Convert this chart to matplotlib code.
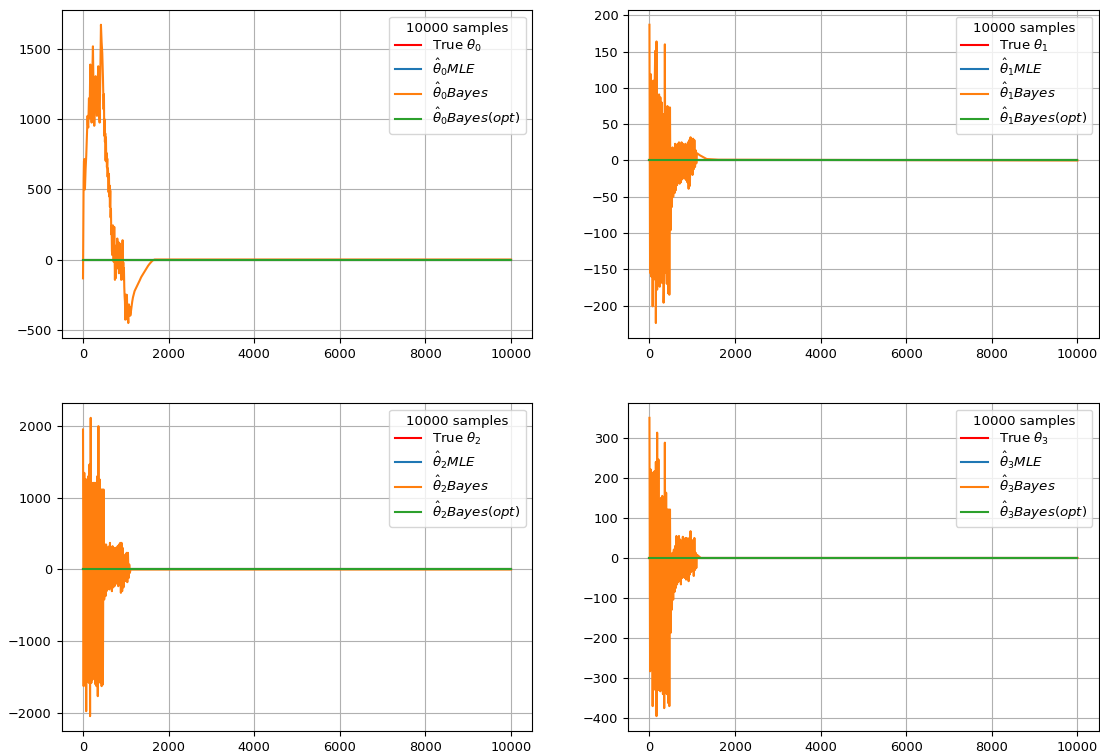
import numpy as np
import matplotlib
matplotlib.use("Agg")
import matplotlib.pyplot as plt
from matplotlib.ticker import MultipleLocator

plt.rcParams['font.size'] = 9.3

n_samples = 10000
true_theta = [0., 0., 0., 0.]
mle_theta = [0., 0., 0., 0.]
bayes_opt_theta = [0., 0., 0., 0.]

# theta_0 bayes estimate (random-walk-ish)
b0_x = [0, 8, 14, 22, 30, 45, 61, 70, 76, 92, 107, 115, 123, 139, 154, 170, 185, 201, 216, 232,
        247, 263, 279, 294, 310, 326, 341, 357, 372, 388, 404, 419, 435, 450, 466,
        481, 489, 497, 505, 512, 520, 528, 536, 543, 551, 559, 567, 575, 582, 590, 598, 606, 614,
        621, 629, 637, 645, 653, 660, 668, 676, 684, 691, 699,
        707, 715, 723, 730, 738, 746, 754, 762, 770, 777, 785, 793, 801, 809, 816, 824, 832, 840,
        848, 855, 863, 870, 878, 886, 894, 902, 910, 917, 925, 933, 941, 949, 956, 964, 972, 980,
        988, 995, 1003, 1011, 1019, 1026, 1034, 1042, 1050, 1058, 1066, 1073, 1081, 1089, 1097,
        1105,
        1120, 1136, 1150, 1167, 1205, 1245, 1285, 1323, 1360, 1401, 1440, 1479, 1520, 1557, 1600,
        1635, 1674, n_samples]
b0_y = [-134, 315, 560, 700, 717, 500, 646, 700, 741, 880, 1025, 960, 942, 1150, 1013, 1391, 1200,
        977, 1300, 1521, 1180, 954, 1100, 1308, 1150, 1025, 1250, 1379, 1100, 977, 1300, 1675,
        1550, 1474, 1300,
        1072, 1180, 883, 1000, 840, 900, 705, 871, 700, 760, 658, 720, 590, 650, 599, 480, 611,
        450, 528, 375, 493, 300, 362, 180, 240, 60, 32, 240, 244,
        120, -15, 60, 233, 20, -145, 60, -134, 90, 20, 103, -40, 150, -63, 90, 126, 10, -98, 40,
        115, -40, -87, 60, 8, -145, 40, -60, -4, 138, -134, -20, -145, -63, -193, -263, -300,
        -429, -350, -250, -418, -300, -252, -380, -430, -406, -453, -360, -320, -400, -335, -347,
        -400,
        -370, -330, -300, -270, -225, -200, -175, -150, -125, -105, -85, -65, -45, -30, -15, -5,
        0, 0]

# theta_1..theta_3 bayes estimates, one value every 15 samples, then the tail
step = 15
b1_noisy = [187, -155, 119, -160, 108, -201, 110, -164, 95, 151, -224, 164, -178, 85, -170, 91,
            -174, 87, -160, 80, -169, 64, -196, -150, 160, -155, 73, -170, 75, -183, 73, -185, 73,
            -96, 5, -64, 18, -50, 15, -45, 23, -41, 20, -34, 23, -30, 25, -32, 22, -30, 25, -26,
            23, -23, 20, -25, 23, -27, 20, -30, 25, -39, 28, -35, 32, -18, 26, -20, 30, -12, 28,
            -9, 14, -4, 10]
b1_tail_x = [1182, 1337, 1610, n_samples]
b1_tail_y = [7, 2, 1, 0]

b2_noisy = [1955, -1629, 1350, -1443, 1257, -1979, 1257, -1443, 1300, -1583, 1466, -2048, 2118,
            -1583, 1210, -1536, 1210, -1490, 1210, -1600, 1210, -1629, 1300, -1769, 2002, -1304,
            1257, -1583, 1117, -1629, 1117, -1606, 1117, -419, 349, -372, 349, -300, 303, -256,
            320, -279, 372, -256, 186, -303, 326, -250, 279, -233, 303, -186, 303, -200, 326,
            -233, 349, -209, 372, -326, 372, -303, 300, -250, 140, -163, 209, -163, 233, -177,
            233, -120, 70, -47, 0]
b2_tail_x = [1150, n_samples]
b2_tail_y = [0, 0]

b3_noisy = [350, -283, 221, -279, 213, -370, 213, -329, 217, -320, 240, -395, 313, -329, 246,
            -330, 146, -333, 150, -329, 155, -340, 113, -375, 288, -329, 163, -340, 121, -362,
            121, -370, 121, -187, 5, -129, 13, -104, 21, -85, 30, -75, 55, -66, 50, -60, 55, -54,
            46, -66, 30, -50, 53, -45, 45, -50, 50, -54, 50, -50, 38, -58, 50, -41, 67, -35, 38,
            -29, 45, -45, 50, -30, 13, -25, 8]
b3_tail_x = [1143, 1200, n_samples]
b3_tail_y = [5, 0, 0]


def noisy_series(values, tail_x, tail_y):
    x = list(np.arange(len(values)) * step) + tail_x
    y = list(values) + tail_y
    return x, y


bayes = [
    (b0_x, b0_y),
    noisy_series(b1_noisy, b1_tail_x, b1_tail_y),
    noisy_series(b2_noisy, b2_tail_x, b2_tail_y),
    noisy_series(b3_noisy, b3_tail_x, b3_tail_y),
]

fig, axes = plt.subplots(2, 2, figsize=(11, 7.56), dpi=100)
fig.subplots_adjust(left=0.056, right=0.999, top=0.987, bottom=0.033, wspace=0.203, hspace=0.198)

ends = [0, n_samples]
for i, ax in enumerate(axes.flat):
    ax.plot(ends, [true_theta[i]] * 2, color='red', label=r'True $\theta_%d$' % i)
    ax.plot(ends, [mle_theta[i]] * 2, color='C0', label=r'$\hat{\theta}_%dMLE$' % i)
    bx, by = bayes[i]
    ax.plot(bx, by, color='C1', label=r'$\hat{\theta}_%dBayes$' % i)
    ax.plot(ends, [bayes_opt_theta[i]] * 2, color='C2', label=r'$\hat{\theta}_%dBayes(opt)$' % i)
    ax.grid(True)
    ax.legend(loc='upper right', title='10000 samples', fontsize=9.65,
              title_fontsize=9.65, labelspacing=0.22)

axes[0, 1].yaxis.set_major_locator(MultipleLocator(50))

fig.savefig('out.png', dpi=100)
